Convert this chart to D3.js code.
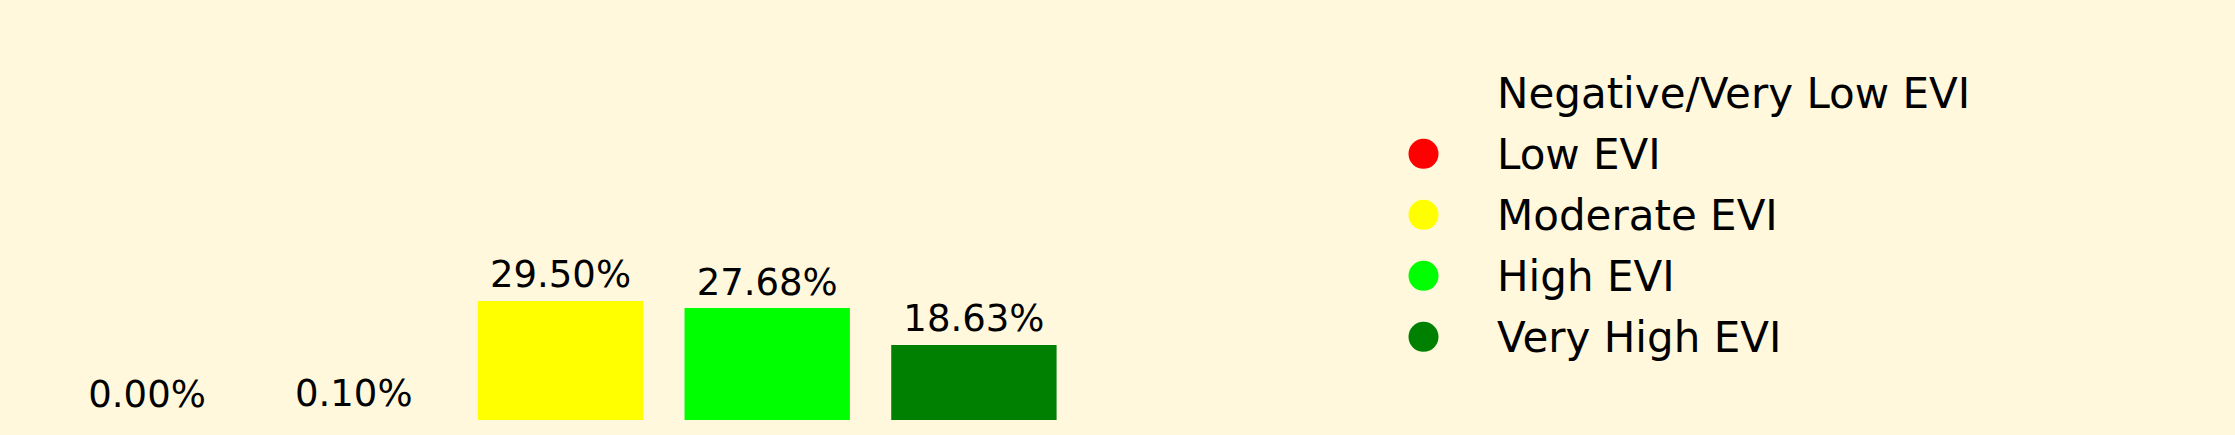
<!DOCTYPE html>
<html>
<head>
<meta charset="utf-8">
<script src="https://cdn.jsdelivr.net/npm/d3@7"></script>
<style>
  html, body { margin: 0; padding: 0; background: #FFF8DC; }
  svg { display: block; }
  text { font-family: "DejaVu Sans", sans-serif; fill: #000; }
</style>
</head>
<body>
<script>
const categories = ["Negative/Very Low EVI", "Low EVI", "Moderate EVI", "High EVI", "Very High EVI"];
const values = [0.00, 0.10, 29.50, 27.68, 18.63];
const colors = ["none", "#FF0000", "#FFFF00", "#00FF00", "#008000"];
const valueLabels = ["0.00%", "0.10%", "29.50%", "27.68%", "18.63%"];

const W = 2235, H = 435;
const svg = d3.select("body").append("svg").attr("width", W).attr("height", H);
svg.append("rect").attr("width", W).attr("height", H).attr("fill", "#FFF8DC");

// matplotlib-like axes: bar width 0.8, x margins
const x = d3.scaleLinear().domain([-0.64, 4.64]).range([14.8, 1106.2]);
const y = d3.scaleLinear().domain([0, 30.975]).range([420, 420 - 30.975 * 4.034]);
const bw = 0.8;

const g = svg.append("g");
g.selectAll("rect.bar").data(values).join("rect")
  .attr("class", "bar")
  .attr("x", (d, i) => x(i - bw / 2))
  .attr("width", (d, i) => x(i + bw / 2) - x(i - bw / 2))
  .attr("y", d => Math.round(y(d)))
  .attr("height", d => Math.round(y(0)) - Math.round(y(d)))
  .attr("fill", (d, i) => colors[i]);

g.selectAll("text.lbl").data(values).join("text")
  .attr("class", "lbl")
  .attr("x", (d, i) => x(i))
  .attr("y", d => y(d) - 13.5)
  .attr("text-anchor", "middle")
  .attr("font-size", 37)
  .text((d, i) => valueLabels[i]);

// legend
const leg = svg.append("g");
const rowY = i => 92.8 + i * 61;
leg.selectAll("circle").data(categories).join("circle")
  .attr("cx", 1423.5)
  .attr("cy", (d, i) => rowY(i))
  .attr("r", 15)
  .attr("fill", (d, i) => colors[i]);
leg.selectAll("text").data(categories).join("text")
  .attr("x", 1497)
  .attr("y", (d, i) => rowY(i) + 15.3)
  .attr("font-size", 42)
  .text(d => d);
</script>
</body>
</html>
